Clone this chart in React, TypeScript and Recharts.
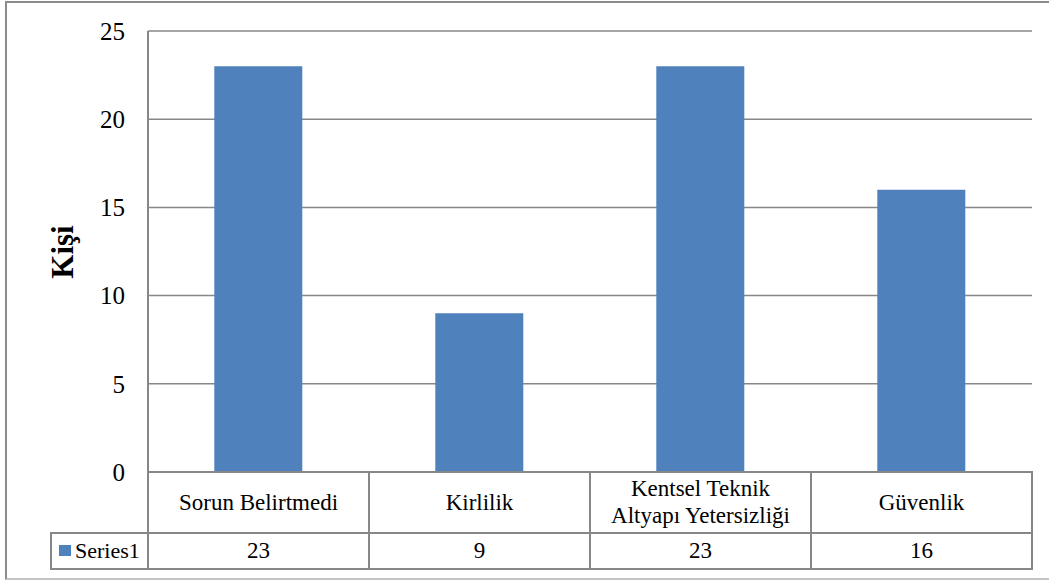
import React from 'react';
import { BarChart, Bar, XAxis, YAxis, CartesianGrid, Label } from 'recharts';

const categories = ['Sorun Belirtmedi', 'Kirlilik', 'Kentsel Teknik\nAltyapı Yetersizliği', 'Güvenlik'];
const series1 = [23, 9, 23, 16];
const yTicks = [0, 5, 10, 15, 20, 25];
const seriesName = 'Series1';
const yTitle = 'Kişi';

const data = categories.map((name, i) => ({ name, value: series1[i] }));

const W = 1049;
const H = 583;
const M = { top: 31, right: 17, bottom: 14, left: 0 };
const Y_AXIS_W = 148;
const X_AXIS_H = 97;
const PLOT_W = W - M.left - M.right - Y_AXIS_W;
const BAND = PLOT_W / categories.length;
const TABLE_TOP = H - M.bottom - X_AXIS_H;
const HEAD_H = 61;
const ROW_H = 36;
const GRID = '#878787';
const BLUE = '#4F81BD';
const FONT = 'Liberation Serif';
const txt = { fontFamily: FONT };
const TFS = 23;

function TableTick(props: any) {
  const { x, index, payload } = props;
  const left = x - BAND / 2;
  const lines = String(payload.value).split('\n');
  const headMid = TABLE_TOP + HEAD_H / 2;
  const rowMid = TABLE_TOP + HEAD_H + ROW_H / 2;
  const lh = 27;
  return (
    <g>
      <rect x={left} y={TABLE_TOP} width={BAND} height={HEAD_H} fill="none" stroke={GRID} strokeWidth={2} />
      <rect x={left} y={TABLE_TOP + HEAD_H} width={BAND} height={ROW_H} fill="none" stroke={GRID} strokeWidth={2} />
      {lines.map((ln, i) => (
        <text
          key={i}
          x={x}
          y={headMid + (i - (lines.length - 1) / 2) * lh + 7}
          textAnchor="middle"
          fontSize={TFS}
          style={txt}
          fill="#000"
        >
          {ln}
        </text>
      ))}
      <text x={x} y={rowMid + 7} textAnchor="middle" fontSize={TFS} style={txt} fill="#000">
        {series1[index]}
      </text>
      {index === 0 && (
        <g>
          <rect x={51} y={TABLE_TOP + HEAD_H} width={left - 51} height={ROW_H} fill="none" stroke={GRID} strokeWidth={2} />
          <rect x={59} y={rowMid - 6} width={12} height={11} fill={BLUE} />
          <text x={75} y={rowMid + 7} fontSize={TFS - 1} style={txt} fill="#000">
            {seriesName}
          </text>
        </g>
      )}
    </g>
  );
}

export default function App() {
  return (
    <div style={{ position: 'absolute', left: 0, top: 0, width: W, height: H, background: '#fff', fontFamily: FONT }}>
      <div
        style={{
          position: 'absolute',
          left: 5,
          top: 1,
          width: W,
          height: 579,
          borderLeft: '2px solid #8c8c8c',
          borderTop: '2px solid #8c8c8c',
          borderBottom: '2px solid #c4c4c4',
          boxSizing: 'border-box',
        }}
      />
      <div style={{ position: 'absolute', left: 0, top: 0 }}>
        <BarChart width={W} height={H} data={data} margin={M} barCategoryGap="30%" style={txt}>
          <CartesianGrid vertical={false} stroke={GRID} strokeWidth={1.5} />
          <XAxis
            dataKey="name"
            height={X_AXIS_H}
            axisLine={false}
            tickLine={false}
            interval={0}
            tick={<TableTick />}
          />
          <YAxis
            width={Y_AXIS_W}
            domain={[0, 25]}
            ticks={yTicks}
            tickLine={false}
            axisLine={{ stroke: GRID, strokeWidth: 2 }}
            tickMargin={17}
            tick={{ fontSize: 25, fill: '#000', style: txt }}
          >
            <Label
              content={() => (
                <text
                  transform="translate(73,252) rotate(-90)"
                  textAnchor="middle"
                  fontSize={31}
                  fontWeight="bold"
                  style={txt}
                  fill="#000"
                >
                  {yTitle}
                </text>
              )}
            />
          </YAxis>
          <Bar dataKey="value" fill={BLUE} isAnimationActive={false} />
        </BarChart>
      </div>
    </div>
  );
}
